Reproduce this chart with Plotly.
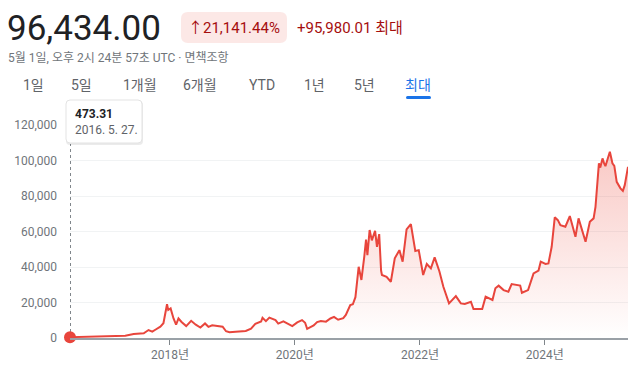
import plotly.graph_objects as go

# ---- data ----
dates = [
    "2016-05-27", "2016-08-01", "2016-11-01", "2017-01-01", "2017-02-25", "2017-04-15",
    "2017-06-03", "2017-07-15", "2017-08-01", "2017-08-29", "2017-09-20", "2017-10-10",
    "2017-11-06", "2017-11-24", "2017-12-15", "2017-12-22", "2018-01-05", "2018-01-22",
    "2018-02-06", "2018-02-20", "2018-03-10", "2018-04-06", "2018-05-05", "2018-06-01",
    "2018-06-28", "2018-07-25", "2018-08-14", "2018-09-05", "2018-10-20", "2018-11-05",
    "2018-11-25", "2018-12-15", "2019-01-20", "2019-02-10", "2019-03-20", "2019-04-20",
    "2019-05-15", "2019-06-18", "2019-06-26", "2019-07-16", "2019-08-05", "2019-09-10",
    "2019-09-26", "2019-10-26", "2019-11-20", "2019-12-17", "2020-01-15", "2020-02-12",
    "2020-03-01", "2020-03-13", "2020-04-20", "2020-05-10", "2020-06-01", "2020-07-01",
    "2020-07-27", "2020-08-17", "2020-09-10", "2020-10-10", "2020-10-25", "2020-11-20",
    "2020-12-05", "2020-12-20", "2021-01-08", "2021-01-24", "2021-02-10", "2021-02-20",
    "2021-02-28", "2021-03-13", "2021-03-26", "2021-04-08", "2021-04-14", "2021-04-25",
    "2021-05-08", "2021-05-19", "2021-05-24", "2021-06-20", "2021-07-15", "2021-08-07",
    "2021-09-03", "2021-09-22", "2021-10-15", "2021-11-09", "2021-12-05", "2021-12-25",
    "2022-01-20", "2022-02-10", "2022-03-06", "2022-03-28", "2022-04-25", "2022-05-18",
    "2022-06-14", "2022-06-20", "2022-07-30", "2022-08-28", "2022-09-20", "2022-10-26",
    "2022-11-10", "2022-12-31", "2023-01-20", "2023-03-01", "2023-03-18", "2023-04-06",
    "2023-05-05", "2023-06-02", "2023-06-21", "2023-07-26", "2023-08-10", "2023-08-20",
    "2023-09-25", "2023-10-27", "2023-11-25", "2023-12-08", "2024-01-05", "2024-01-22",
    "2024-02-10", "2024-02-28", "2024-03-17", "2024-04-01", "2024-04-30", "2024-05-26",
    "2024-06-28", "2024-07-16", "2024-08-07", "2024-08-26", "2024-09-20", "2024-10-12",
    "2024-10-23", "2024-11-12", "2024-11-20", "2024-12-03", "2024-12-12", "2024-12-20",
    "2025-01-15", "2025-01-30", "2025-02-10", "2025-02-24", "2025-03-18", "2025-04-01",
    "2025-04-12", "2025-05-01",
]
prices = [
    473.31, 600, 700, 950, 1100, 1300,
    2300, 2300, 2700, 4500, 3600, 4800,
    6400, 8300, 19000, 15800, 16700, 11000,
    7500, 11000, 9000, 6700, 9700, 7500,
    5900, 8200, 6300, 7200, 6500, 6400,
    3800, 3200, 3550, 3600, 4000, 5300,
    8000, 9300, 11400, 9500, 11500, 10100,
    8100, 9400, 8100, 6700, 8800, 10100,
    8600, 5200, 7100, 9000, 9600, 9200,
    11000, 11900, 10300, 11200, 13000, 18500,
    19000, 23000, 40100, 32700, 46000, 55500,
    46700, 60800, 55000, 58000, 60400, 51400,
    58500, 38000, 35500, 34500, 31700, 44900,
    49500, 43000, 61200, 64200, 49000, 49500,
    35500, 41700, 39200, 45400, 37500, 28900,
    21500, 19500, 23600, 19500, 19200, 20400,
    16300, 16300, 23300, 21400, 28000, 29500,
    27000, 26100, 30400, 29800, 29500, 25500,
    27000, 36400, 38000, 43000, 41700, 42000,
    51400, 68000, 66400, 63600, 62700, 68700,
    57000, 67400, 59800, 54200, 65500, 67400,
    73900, 98400, 96000, 101200, 98500, 96800,
    104900, 98400, 97000, 88000, 84300, 82900,
    86100, 96434,
]
y_ticks = [0, 20000, 40000, 60000, 80000, 100000, 120000]
x_tick_dates = ["2018-01-01", "2020-01-01", "2022-01-01", "2024-01-01"]
x_tick_labels = ["2018년", "2020년", "2022년", "2024년"]

RED = "#e8453c"
FONT = "Roboto, 'Noto Sans CJK KR', sans-serif"

W, H = 640, 369
L, R, T, B = 70, 12, 125, 31
PW, PH = W - L - R, H - T - B


def px(xp):
    return (xp - L) / PW


def py(yp):
    return (H - B - yp) / PH


fig = go.Figure()
fig.add_trace(go.Scatter(
    x=dates, y=prices, mode="lines",
    line=dict(color=RED, width=2),
    fill="tozeroy",
    fillgradient=dict(type="vertical", start=0, stop=110000,
                      colorscale=[[0, "rgba(234,67,53,0.0)"], [1, "rgba(234,67,53,0.30)"]]),
    hoverinfo="skip",
))
fig.add_trace(go.Scatter(
    x=[dates[0]], y=[prices[0]], mode="markers",
    marker=dict(color=RED, size=12), cliponaxis=False, hoverinfo="skip",
))

shapes = []
# hover guide line
shapes.append(dict(type="line", xref="x", yref="paper", x0=dates[0], x1=dates[0],
                   y0=0, y1=py(144), line=dict(color="#80868b", width=2, dash="dot"), layer="below"))


def rrect(x0, y0, x1, y1, r):
    X0, X1 = px(x0), px(x1)
    Y0, Y1 = py(y0), py(y1)
    rx, ry = r / PW, r / PH
    return (f"M{X0+rx},{Y0} L{X1-rx},{Y0} Q{X1},{Y0} {X1},{Y0-ry} L{X1},{Y1+ry} "
            f"Q{X1},{Y1} {X1-rx},{Y1} L{X0+rx},{Y1} Q{X0},{Y1} {X0},{Y1+ry} "
            f"L{X0},{Y0-ry} Q{X0},{Y0} {X0+rx},{Y0} Z")


# tooltip shadow + box
shapes.append(dict(type="path", xref="paper", yref="paper", path=rrect(66, 101, 143, 145, 4),
                   fillcolor="rgba(0,0,0,0.08)", line=dict(width=0), layer="above"))
shapes.append(dict(type="path", xref="paper", yref="paper", path=rrect(66, 100, 142, 143, 4),
                   fillcolor="white", line=dict(color="#e3e3e3", width=1), layer="above"))
# percent pill
shapes.append(dict(type="path", xref="paper", yref="paper", path=rrect(181, 12, 287, 43, 7),
                   fillcolor="#fce8e6", line=dict(width=0)))
# tab underline
shapes.append(dict(type="path", xref="paper", yref="paper", path=rrect(406, 96, 431, 99, 1.5),
                   fillcolor="#1a73e8", line=dict(width=0)))

ann = []


def text(t, x, y, size, color, anchor="left", bold=False):
    ann.append(dict(text=f"<b>{t}</b>" if bold else t, x=px(x), y=py(y), xref="paper", yref="paper",
                    xanchor=anchor, yanchor="middle", showarrow=False,
                    font=dict(size=size, color=color, family=FONT)))


text("96,434.00", 5, 28, 35, "#202124")
text("↑21,141.44%", 234, 28, 15, "#a50e0e", anchor="center")
text("+95,980.01 최대", 295, 28, 15, "#a50e0e")
text("5월 1일, 오후 2시 24분 57초 UTC · 면책조항", 6, 58, 12, "#70757a")
tabs = [("1일", 33), ("5일", 81), ("1개월", 140), ("6개월", 200), ("YTD", 262),
        ("1년", 314), ("5년", 364), ("최대", 418)]
for t, xc in tabs:
    text(t, xc, 85, 14, "#1a73e8" if t == "최대" else "#5f6368", anchor="center")
text("473.31", 73, 114, 12, "#202124", bold=True)
text("2016. 5. 27.", 73, 130, 12, "#5f6368")

fig.update_layout(
    width=W, height=H,
    margin=dict(l=L, r=R, t=T, b=B),
    paper_bgcolor="white", plot_bgcolor="white",
    showlegend=False,
    shapes=shapes, annotations=ann,
    font=dict(family=FONT),
    xaxis=dict(type="date", range=[dates[0], dates[-1]], automargin=False,
               tickvals=x_tick_dates, ticktext=x_tick_labels,
               ticks="outside", ticklen=5, tickcolor="#80868b", tickwidth=1,
               showgrid=False, showline=True, linecolor="#9aa0a6", linewidth=1.5,
               tickfont=dict(size=12, color="#70757a"), zeroline=False, fixedrange=True),
    yaxis=dict(range=[0, 120000], tickvals=y_ticks, tickformat=",", automargin=False,
               showgrid=True, gridcolor="#f1f3f4", gridwidth=1, zeroline=False,
               showline=False, ticks="", ticklabelstandoff=12,
               tickfont=dict(size=12, color="#70757a"), fixedrange=True),
)

fig.write_html("out.html", config={"displayModeBar": False},
               post_script="document.body.style.margin='0';document.body.style.overflow='hidden';")
